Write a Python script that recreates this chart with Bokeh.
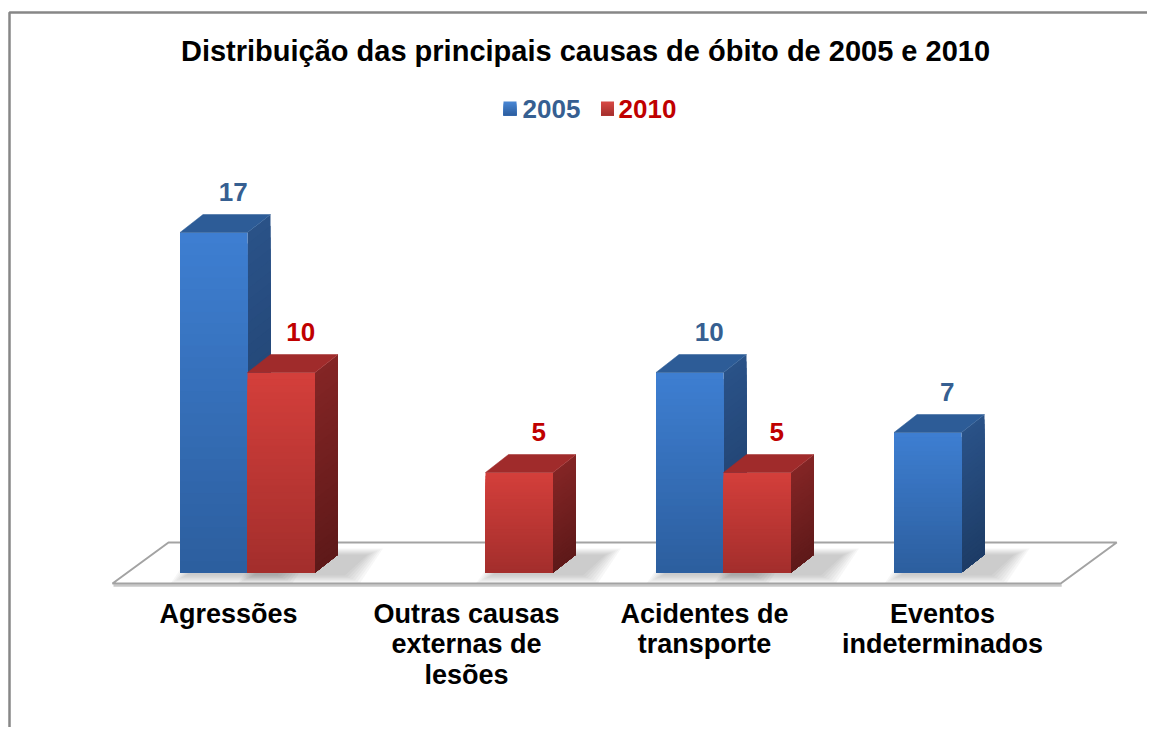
from bokeh.plotting import figure
from bokeh.models import Range1d
from bokeh.core.properties import value
from bokeh.embed import file_html
from bokeh.resources import INLINE

# ---------------- data ----------------
title_text = "Distribuição das principais causas de óbito de 2005 e 2010"
categories = ["Agressões", "Outras causas\nexternas de\nlesões",
              "Acidentes de\ntransporte", "Eventos\nindeterminados"]
series_names = ["2005", "2010"]
values_2005 = [17, None, 10, 7]
values_2010 = [10, 5, 5, None]

# ---------------- layout helpers (pixel geometry of the page) ----------------
PX_X = 238.0   # px per category
PX_Y = 20.0    # px per unit of value
X0 = 247.0     # page px of category 0 centre
Y0 = 572.0     # page px of value 0 (front base of bars)
W, H = 1147, 727


def ux(px):
    return (px - X0) / PX_X


def uy(py):
    return (Y0 - py) / PX_Y


def dxu(px):
    return px / PX_X


def dyu(px):
    return px / PX_Y


BAR_W = dxu(67.5)
DX = dxu(23)
DY = dyu(18)

FONT = value("Liberation Sans")
BLUE_TXT = "#365F91"
RED_TXT = "#C00000"

styles = {
    "2005": dict(front=("#3E7FD2", "#2C5E9E"), side=("#2A5288", "#1D3C66"),
                 top="#2D5C97", txt=BLUE_TXT, leg=("#4A88D6", "#2C5E9E")),
    "2010": dict(front=("#D43F3B", "#A32E2C"), side=("#842525", "#5E1919"),
                 top="#A02B2B", txt=RED_TXT, leg=("#D84A46", "#A32E2C")),
}


def hex2rgb(h):
    h = h.lstrip("#")
    return tuple(int(h[i:i + 2], 16) for i in (0, 2, 4))


def mix(c1, c2, t):
    a, b = hex2rgb(c1), hex2rgb(c2)
    return "#%02x%02x%02x" % tuple(round(a[i] + (b[i] - a[i]) * t) for i in range(3))


p = figure(width=W, height=H,
           x_range=Range1d(ux(0), ux(W)), y_range=Range1d(uy(H), uy(0)),
           output_backend="svg", toolbar_location=None, min_border=0)
p.xaxis.visible = False
p.yaxis.visible = False
p.xgrid.visible = False
p.ygrid.visible = False
p.outline_line_color = None
p.background_fill_color = "white"
p.border_fill_color = "white"

# frame lines (top and left edges of the chart area)
p.line(x=[ux(9), ux(9), ux(W + 5)], y=[uy(H + 5), uy(12), uy(12)],
       line_color="#878787", line_width=2.5)

# ---------------- floor ----------------
n_cat = len(categories)
fl_fx0, fl_fx1 = ux(112), ux(112) + (n_cat - 0.016) * 1.0
fl_fy = uy(583)
fl_bx0, fl_bx1 = ux(168), ux(168) + (n_cat - 0.016) * 1.0
fl_by = uy(542)
# shadow under the floor front edge
p.line(x=[fl_fx0 + dxu(1), fl_fx1 + dxu(1)], y=[fl_fy - dyu(2), fl_fy - dyu(2)],
       line_color="#C8C8C8", line_width=2.5)
p.patch(x=[fl_fx0, fl_fx1, fl_bx1, fl_bx0], y=[fl_fy, fl_fy, fl_by, fl_by],
        fill_color="white", line_color="#A3A3A3", line_width=2)

series_vals = [values_2005, values_2010]
offsets = [-1, 0]

# ---------------- soft shadows ----------------
for vals, off in zip(series_vals, offsets):
    for i, v in enumerate(vals):
        if v is None:
            continue
        xl = i + off * BAR_W
        xr = xl + BAR_W
        for k in range(7):
            e = 2.5 * k
            sx0 = xl + dxu(6 - e)
            sx1 = xr + dxu(30 + e)
            sy0 = dyu(-3 - e * 0.5)
            sy1 = DY + dyu(e * 0.4)
            p.patch(x=[sx0, sx1, sx1 + DX, sx0 + DX], y=[sy0, sy0, sy1, sy1],
                    fill_color="#606060", fill_alpha=0.05, line_color=None)

# ---------------- 3D bars (gradient by nested layers, no seams) ----------------
N = 30
for name, vals, off in zip(series_names, series_vals, offsets):
    st = styles[name]
    fl, fr, fb, ft, fc = [], [], [], [], []
    sxs, sys_, sc = [], [], []
    txs, tys = [], []
    for k in range(N):
        t = (k + 0.5) / N
        for i, v in enumerate(vals):
            if v is None:
                continue
            xl = i + off * BAR_W
            xr = xl + BAR_W
            y_top = v * (1 - k / N)
            fl.append(xl)
            fr.append(xr)
            fb.append(0)
            ft.append(y_top)
            fc.append(mix(st["front"][0], st["front"][1], t))
            sxs.append([xr, xr + DX, xr + DX, xr])
            sys_.append([0, DY, y_top + DY, y_top])
            sc.append(mix(st["side"][0], st["side"][1], t))
    for i, v in enumerate(vals):
        if v is None:
            continue
        xl = i + off * BAR_W
        xr = xl + BAR_W
        txs.append([xl, xr, xr + DX, xl + DX])
        tys.append([v, v, v + DY, v + DY])
    p.patches(xs=sxs, ys=sys_, fill_color=sc, line_color=None)
    p.quad(left=fl, right=fr, bottom=fb, top=ft, fill_color=fc, line_color=None)
    p.patches(xs=txs, ys=tys, fill_color=st["top"], line_color=st["top"], line_width=0.5)

# ---------------- value labels ----------------
for name, vals, off in zip(series_names, series_vals, offsets):
    st = styles[name]
    lx, ly, lt = [], [], []
    for i, v in enumerate(vals):
        if v is None:
            continue
        xl = i + off * BAR_W
        lx.append(xl + BAR_W / 2 + DX * 0.85)
        ly.append(v + DY + dyu(23))
        lt.append(str(v))
    p.text(x=lx, y=ly, text=lt, text_color=st["txt"], text_font=FONT,
           text_font_style="bold", text_font_size="26px",
           text_align="center", text_baseline="middle")

# ---------------- category labels ----------------
cx, cy, ct = [], [], []
for i, c in enumerate(categories):
    for j, line in enumerate(c.split("\n")):
        cx.append(i - dxu(19))
        cy.append(uy(613) - j * dyu(30.5))
        ct.append(line)
p.text(x=cx, y=cy, text=ct, text_color="black", text_font=FONT,
       text_font_style="bold", text_font_size="27px",
       text_align="center", text_baseline="middle")

# ---------------- title ----------------
p.text(x=[ux(585)], y=[uy(50)], text=[title_text], text_color="black",
       text_font=FONT, text_font_style="bold", text_font_size="29px",
       text_align="center", text_baseline="middle")

# ---------------- legend ----------------
leg_sq_x = [ux(509.5), ux(607)]
leg_tx_x = [ux(522), ux(618)]
leg_y = uy(108)
for name, sx, tx in zip(series_names, leg_sq_x, leg_tx_x):
    st = styles[name]
    for k in range(7):
        t = (k + 0.5) / 7
        c = mix(st["leg"][0], st["leg"][1], t)
        p.quad(left=[sx - dxu(6.5)], right=[sx + dxu(6.5)],
               top=[leg_y + dyu(7) - k * dyu(2)], bottom=[leg_y - dyu(7)],
               fill_color=c, line_color=None)
    p.text(x=[tx], y=[leg_y], text=[name], text_color=st["txt"], text_font=FONT,
           text_font_style="bold", text_font_size="26px",
           text_align="left", text_baseline="middle")

open("out.html", "w").write(file_html(p, INLINE))
